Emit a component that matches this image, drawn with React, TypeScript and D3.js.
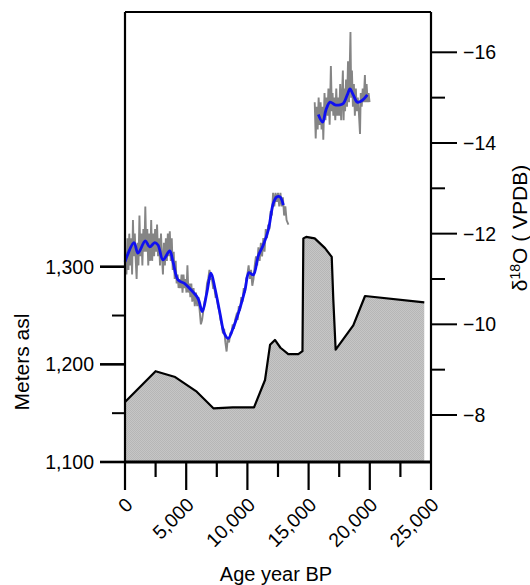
import React from "react";
import * as d3 from "d3";

// ---- Data ----
const AGE_TICKS = [0, 2500, 5000, 7500, 10000, 12500, 15000, 17500, 20000, 22500, 25000];
const LEVEL_TICKS = [1100, 1150, 1200, 1250, 1300];
const D18O_TICKS = [-8, -9, -10, -11, -12, -13, -14, -15, -16];

// Lake level (m asl) vs age (yr BP)
const lakeLevel: [number, number][] = [
  [0, 1161.5], [2500, 1193], [4100, 1187], [5860, 1172], [7220, 1155], [8800, 1156],
  [10540, 1156], [11440, 1184], [11850, 1220], [12250, 1225], [12700, 1217], [13340, 1210.5],
  [14160, 1210.5], [14500, 1213.5], [14570, 1329], [14800, 1330.5], [15500, 1329],
  [16340, 1319], [16890, 1310], [17020, 1266], [17210, 1215], [18650, 1240],
  [19610, 1270], [24450, 1263.5],
];

// δ18O raw record, Holocene–deglacial segment
const grayHolocene: [number, number][] = [
  [0, -11.0], [60, -11.6], [120, -11.1], [200, -11.9], [280, -11.2], [350, -12.0], [430, -11.3],
  [500, -11.9], [580, -11.1], [650, -12.3], [720, -11.5], [800, -12.0], [880, -11.4], [950, -11.0],
  [1030, -11.8], [1100, -11.3], [1180, -12.4], [1260, -11.5], [1340, -12.0], [1420, -11.3],
  [1500, -12.1], [1580, -11.6], [1660, -12.6], [1740, -11.6], [1820, -12.1], [1900, -11.3],
  [1980, -12.0], [2060, -11.4], [2140, -12.3], [2220, -11.4], [2300, -12.0], [2380, -11.5],
  [2460, -12.1], [2540, -11.6], [2620, -12.2], [2700, -11.5], [2780, -11.9], [2860, -11.3],
  [2940, -12.0], [3020, -11.5], [3100, -11.1], [3180, -11.8], [3260, -11.3], [3340, -11.9],
  [3420, -11.4], [3500, -12.0], [3580, -11.5], [3660, -12.05], [3740, -11.4], [3820, -11.9],
  [3900, -11.2], [3980, -11.6], [4060, -11.0], [4140, -11.4], [4220, -10.9], [4300, -11.1],
  [4380, -10.8], [4460, -11.0], [4540, -10.8], [4620, -11.1], [4700, -10.7], [4780, -11.1],
  [4860, -10.8], [4940, -11.0], [5020, -10.7], [5100, -11.3], [5180, -10.7], [5260, -10.9],
  [5340, -10.6], [5420, -10.9], [5500, -10.5], [5600, -10.8], [5700, -10.4], [5800, -10.7],
  [5900, -10.4], [6000, -10.6], [6100, -10.3], [6200, -10.0], [6300, -10.1], [6400, -10.3],
  [6500, -10.5], [6600, -10.6], [6700, -10.9], [6800, -11.0], [6900, -11.2], [7000, -11.0],
  [7100, -11.0], [7200, -10.8], [7300, -10.8], [7400, -10.6], [7500, -10.6], [7600, -10.4],
  [7700, -10.3], [7800, -10.1], [7900, -10.0], [8000, -9.8], [8100, -9.9], [8200, -9.6],
  [8300, -9.4], [8400, -9.7], [8500, -9.6], [8600, -9.8], [8700, -9.8], [8800, -10.0],
  [8900, -9.9], [9000, -10.1], [9100, -10.2], [9200, -10.1], [9300, -10.4], [9400, -10.3],
  [9500, -10.6], [9600, -10.5], [9700, -10.8], [9800, -10.7], [9900, -11.0], [10000, -11.1],
  [10100, -11.3], [10200, -11.0], [10300, -11.2], [10400, -10.85], [10500, -11.0], [10600, -11.3],
  [10700, -11.5], [10800, -11.3], [10900, -11.7], [11000, -11.4], [11100, -11.8], [11200, -11.5],
  [11300, -11.9], [11400, -11.6], [11500, -12.1], [11600, -11.9], [11700, -12.2], [11800, -12.1],
  [11900, -12.5], [12000, -12.4], [12100, -12.9], [12200, -12.6], [12300, -12.9], [12400, -12.7],
  [12500, -12.9], [12600, -12.6], [12700, -12.9], [12800, -12.6], [12900, -12.8], [13000, -12.4],
  [13100, -12.6], [13200, -12.3], [13350, -12.2],
];

// δ18O smoothed, Holocene–deglacial segment
const blueHolocene: [number, number][] = [
  [0, -11.38], [735, -11.80], [1062, -11.57], [1659, -11.84], [2018, -11.71], [2427, -11.80],
  [2696, -11.75], [3105, -11.42], [3652, -11.62], [3922, -11.38], [4330, -10.98], [4877, -10.90],
  [5286, -10.79], [5964, -10.57], [6316, -10.28], [6675, -10.68], [7026, -11.13], [7353, -10.79],
  [7762, -10.24], [8113, -9.80], [8440, -9.69], [8767, -9.87], [9257, -10.24], [9804, -10.76],
  [10131, -11.14], [10482, -11.09], [10890, -11.51], [11299, -11.75], [11708, -12.08],
  [12116, -12.67], [12394, -12.81], [12664, -12.81], [12934, -12.63],
];

// δ18O raw record, glacial segment
const grayGlacial: [number, number][] = [
  [15500, -14.9], [15580, -14.1], [15660, -14.8], [15740, -14.3], [15820, -15.0], [15900, -14.4],
  [15980, -14.9], [16060, -14.3], [16140, -14.8], [16200, -14.07], [16300, -15.1], [16380, -14.5],
  [16460, -15.0], [16540, -14.6], [16620, -15.2], [16720, -14.4], [16820, -15.7], [16900, -14.7],
  [16960, -15.1], [17020, -14.6], [17100, -15.0], [17180, -14.5], [17260, -15.2], [17340, -14.6],
  [17420, -15.0], [17500, -14.6], [17580, -15.3], [17660, -14.5], [17800, -15.6], [17860, -14.5],
  [17920, -15.2], [17980, -14.7], [18060, -15.4], [18140, -14.8], [18220, -15.8], [18300, -14.9],
  [18420, -16.45], [18480, -15.0], [18540, -15.6], [18620, -14.8], [18700, -15.3], [18780, -14.6],
  [18860, -15.2], [18940, -14.7], [19020, -15.0], [19100, -14.7], [19200, -14.2], [19260, -15.1],
  [19340, -14.8], [19420, -15.2], [19500, -14.9], [19600, -15.5], [19660, -14.9], [19740, -15.3],
  [19820, -14.9], [19900, -15.1], [19980, -14.9],
];

// δ18O smoothed, glacial segment
const blueGlacial: [number, number][] = [
  [15795, -14.63], [16150, -14.46], [16420, -14.73], [16750, -14.90], [17160, -14.84],
  [17565, -14.84], [17835, -14.87], [18160, -15.06], [18380, -15.19], [18650, -15.06],
  [18980, -14.90], [19340, -14.93], [19795, -15.06],
];

const X_TITLE = "Age year BP";
const Y_TITLE = "Meters asl";

// ---- Layout ----
const LEFT = 125;
const RIGHT = 431;
const TOP = 12;
const BOTTOM = 462;
const FONT = "Helvetica, 'Liberation Sans', Arial, sans-serif";

export default function App() {
  const x = d3.scaleLinear().domain([0, 25000]).range([LEFT, RIGHT]);
  const yL = d3.scaleLinear().domain([1100, 1300]).range([BOTTOM, 266.7]);
  const yR = d3.scaleLinear().domain([-8, -16]).range([415, 52.3]);

  const areaGen = d3
    .area<[number, number]>()
    .x((d) => x(d[0]))
    .y0(yL(1100))
    .y1((d) => yL(d[1]));
  const levelLine = d3
    .line<[number, number]>()
    .x((d) => x(d[0]))
    .y((d) => yL(d[1]));
  const rawLine = d3
    .line<[number, number]>()
    .x((d) => x(d[0]))
    .y((d) => yR(d[1]));
  const smoothLine = d3
    .line<[number, number]>()
    .x((d) => x(d[0]))
    .y((d) => yR(d[1]))
    .curve(d3.curveCatmullRom);

  const fmtComma = d3.format(",");
  const fmtInt = d3.format("d");

  return (
    <svg
      width={530}
      height={585}
      style={{ position: "absolute", left: 0, top: 0, background: "#fff" }}
      fontFamily={FONT}
    >
      <defs>
        <pattern id="stip" width="2" height="2" patternUnits="userSpaceOnUse">
          <rect width="2" height="2" fill="#c6c6c6" />
          <rect width="1" height="1" fill="#b6b6b6" />
          <rect x="1" y="1" width="1" height="1" fill="#b6b6b6" />
        </pattern>
      </defs>

      {/* Lake level area */}
      <path d={areaGen(lakeLevel) || ""} fill="url(#stip)" stroke="none" />
      <path d={levelLine(lakeLevel) || ""} fill="none" stroke="#000" strokeWidth={2.2} strokeLinejoin="round" />

      {/* δ18O raw */}
      <path d={rawLine(grayHolocene) || ""} fill="none" stroke="#858585" strokeWidth={1.9} />
      <path d={rawLine(grayGlacial) || ""} fill="none" stroke="#858585" strokeWidth={1.9} />
      {/* δ18O smoothed */}
      <path d={smoothLine(blueHolocene) || ""} fill="none" stroke="#1010f0" strokeWidth={2.8} />
      <path d={smoothLine(blueGlacial) || ""} fill="none" stroke="#1010f0" strokeWidth={2.8} />

      {/* Frame */}
      <line x1={LEFT} x2={RIGHT} y1={TOP} y2={TOP} stroke="#000" strokeWidth={2} />
      <line x1={LEFT} x2={LEFT} y1={TOP} y2={BOTTOM} stroke="#000" strokeWidth={2.2} />
      <line x1={RIGHT} x2={RIGHT} y1={TOP} y2={BOTTOM} stroke="#000" strokeWidth={2.2} />
      <line x1={LEFT - 1} x2={RIGHT + 1} y1={BOTTOM} y2={BOTTOM} stroke="#000" strokeWidth={3} />

      {/* Left axis */}
      {LEVEL_TICKS.map((t) => {
        const major = t % 100 === 0;
        return (
          <g key={"l" + t}>
            <line
              x1={major ? LEFT - 25 : LEFT - 13}
              x2={LEFT}
              y1={yL(t)}
              y2={yL(t)}
              stroke="#000"
              strokeWidth={major ? 2.6 : 2}
            />
            {major && (
              <text x={LEFT - 31} y={yL(t)} dy="0.36em" textAnchor="end" fontSize={19.5}>
                {fmtComma(t)}
              </text>
            )}
          </g>
        );
      })}
      <text transform={`translate(29,362) rotate(-90)`} textAnchor="middle" fontSize={21}>
        {Y_TITLE}
      </text>

      {/* Right axis */}
      {D18O_TICKS.map((t) => {
        const major = t % 2 === 0;
        return (
          <g key={"r" + t}>
            <line
              x1={RIGHT}
              x2={major ? RIGHT + 26 : RIGHT + 14}
              y1={yR(t)}
              y2={yR(t)}
              stroke="#000"
              strokeWidth={2}
            />
            {major && (
              <text x={RIGHT + 32} y={yR(t)} dy="0.36em" textAnchor="start" fontSize={19.5}>
                {fmtInt(t)}
              </text>
            )}
          </g>
        );
      })}
      <text transform={`translate(527,228) rotate(-90)`} textAnchor="middle" fontSize={21}>
        δ
        <tspan fontSize={14} dy="-7">18</tspan>
        <tspan dy="7">O ( VPDB)</tspan>
      </text>

      {/* Bottom axis */}
      {AGE_TICKS.map((t) => {
        const major = t % 5000 === 0;
        return (
          <g key={"b" + t}>
            <line
              x1={x(t)}
              x2={x(t)}
              y1={BOTTOM}
              y2={major ? BOTTOM + 28 : BOTTOM + 15}
              stroke="#000"
              strokeWidth={2.2}
            />
            {major && (
              <text
                transform={`translate(${x(t) + 9},${BOTTOM + 44}) rotate(-45)`}
                textAnchor="end"
                fontSize={19.5}
              >
                {fmtComma(t)}
              </text>
            )}
          </g>
        );
      })}
      <text x={276} y={581} textAnchor="middle" fontSize={20}>
        {X_TITLE}
      </text>
    </svg>
  );
}
